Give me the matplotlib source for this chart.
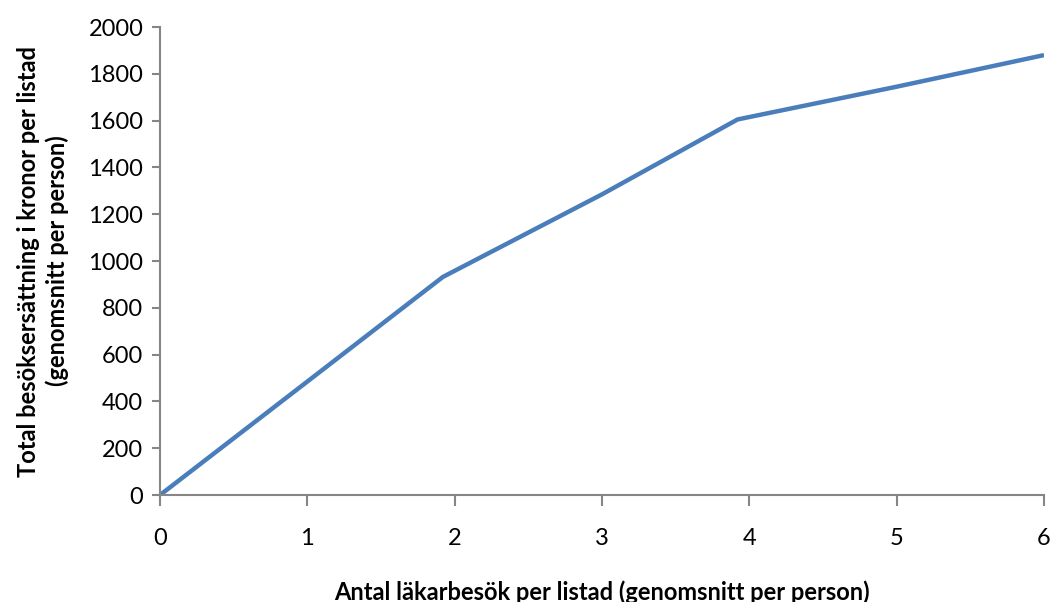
import matplotlib
matplotlib.use("Agg")
import matplotlib.pyplot as plt

visits = [0, 1, 1.92, 3, 3.92, 5, 6]
compensation = [0, 485, 932, 1285, 1605, 1745, 1880]

plt.rcParams["font.family"] = ["Lato", "DejaVu Sans"]

fig = plt.figure(figsize=(10.5, 6.02), dpi=100)
ax = fig.add_axes([0.1524, 0.1777, 0.8419, 0.7774])

ax.plot(visits, compensation, color="#4a7ebb", linewidth=3.2, solid_capstyle="butt")

ax.set_xlim(0, 6)
ax.set_ylim(0, 2000)
ax.set_xticks(range(0, 7))
ax.set_yticks(range(0, 2001, 200))

for side in ("top", "right"):
    ax.spines[side].set_visible(False)
for side in ("left", "bottom"):
    ax.spines[side].set_color("#868686")
    ax.spines[side].set_linewidth(1.5)
ax.tick_params(axis="both", colors="#868686", width=1.5, labelsize=17, labelcolor="black")
ax.tick_params(axis="y", length=6, pad=6)
ax.tick_params(axis="x", length=8, pad=16)

ax.set_xlabel("Antal läkarbesök per listad (genomsnitt per person)", fontsize=17,
              fontweight="bold", labelpad=22)
ax.set_ylabel("Total besöksersättning i kronor per listad\n(genomsnitt per person)",
              fontsize=17, fontweight="bold", labelpad=14, linespacing=1.25)

fig.savefig("out.png", dpi=100)
